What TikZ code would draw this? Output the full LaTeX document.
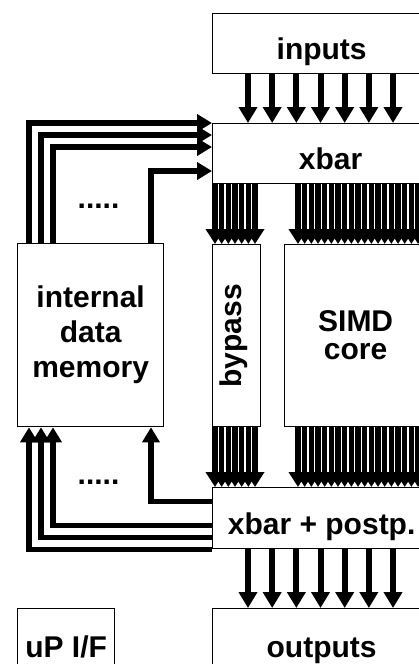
\documentclass[tikz,border=0pt]{standalone}
\usepackage{fontspec}
\setmainfont{Liberation Sans}
\usetikzlibrary{calc,arrows.meta,positioning}

\begin{document}
\begin{tikzpicture}[x=1pt, y=-1pt,
        unit/.style={draw, line width=1.3pt, inner sep=0pt, minimum height=60pt,
                     text height=32pt, text depth=0pt, anchor=north west,
                     font=\bfseries\fontsize{30}{35}\selectfont},
        block/.style={draw, line width=1.3pt, inner sep=0pt, anchor=north west,
                      align=center, font=\bfseries\fontsize{30}{35}\selectfont},
        arr/.style={-{Triangle[length=16pt,width=18pt]}, line width=6pt},
        bus/.style={-{Triangle[length=15pt,width=18pt]}, line width=5.2pt},
        fb/.style={-{Triangle[length=15pt,width=17pt]}, line width=5.5pt},
        dots/.style={font=\bfseries\fontsize{30}{35}\selectfont, inner sep=0pt, anchor=base}]
        \useasboundingbox (0,0) rectangle (419,664);
        \clip (0,0) rectangle (419,664);
        % datapath
        \node[unit, minimum width=218pt] (inputs) at (212,13) {inputs};
        \node[unit, minimum width=236pt] (xbar) at (212,123) {xbar};
        \node[block, minimum width=48pt, minimum height=182pt] (bypass) at (212,244) {};
        \node[block, minimum width=142pt, minimum height=182pt,
              font=\bfseries\fontsize{30}{28}\selectfont] (simd) at (284,244) {SIMD\\core};
        \node[unit, minimum width=218pt, minimum height=61pt] (postp) at (212,487) {xbar + postp.};
        \node[unit, minimum width=218pt, minimum height=66pt] (outputs) at (212,608) {outputs};
        \node[rotate=90, inner sep=0pt, font=\bfseries\fontsize{30}{35}\selectfont]
              (bypasslbl) at ($(bypass.center)+(-3,0)$) {bypass};
        % memory and host interface
        \node[block, minimum width=146pt, minimum height=183pt] (mem) at (17,243) {internal\\data\\memory};
        \node[unit, minimum width=97pt, minimum height=66pt] (upif) at (17,608) {uP I/F};
        % I/O
        \foreach \i in {0,...,6} {
            \draw[arr] ($(inputs.south west)+(36+24.17*\i,0)$) -- ($(xbar.north west)+(36+24.17*\i,0)$);
            \draw[arr] ($(postp.south west)+(36+24.17*\i,0)$) -- ($(outputs.north west)+(36+24.17*\i,0)$);
        }
        % buses through bypass and core
        \foreach \i in {0,...,6} {
            \draw[bus] ($(xbar.south west)+(3+6.67*\i,0)$) -- ($(bypass.north west)+(3+6.67*\i,0)$);
            \draw[bus] ($(bypass.south west)+(3+6.67*\i,0)$) -- ($(postp.north west)+(3+6.67*\i,0)$);
        }
        \foreach \i in {0,...,20} {
            \draw[bus] ($(xbar.south west)+(86+6.67*\i,0)$) -- ($(simd.north west)+(14+6.67*\i,0)$);
            \draw[bus] ($(simd.south west)+(14+6.67*\i,0)$) -- ($(postp.north west)+(86+6.67*\i,0)$);
        }
        % feedback to memory
        \foreach \dx/\dy in {12/0, 24/12, 36/24, 134/48} {
            \draw[fb] ($(mem.north west)+(\dx,0)$) |- ($(xbar.north west)+(0,\dy)$);
            \draw[fb] ($(postp.south west)+(0,-\dy)$) -| ($(mem.south west)+(\dx,0)$);
        }
        \node[dots] (dotsup) at (98.5,208) {.....};
        \node[dots] (dotslow) at (98.5,484) {.....};
    \end{tikzpicture}
\end{document}
